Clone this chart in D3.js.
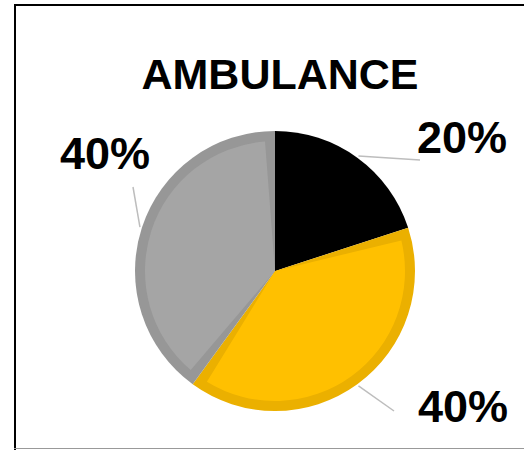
<!DOCTYPE html>
<html>
<head>
<meta charset="utf-8">
<script src="https://cdn.jsdelivr.net/npm/d3@7"></script>
<style>
  body { margin: 0; background: #fff; }
  svg { display: block; }
</style>
</head>
<body>
<svg></svg>
<script>
const w = 524;
const h = 450;

// chart data
const title = 'AMBULANCE';
const categories = ['Black', 'Yellow', 'Gray'];
const values = [20, 40, 40];
const labels = ['20%', '40%', '40%'];

const fills = ['#000000', '#FFC000', '#A5A5A5'];
const edges = ['#000000', '#EBB000', '#979797'];
// where each label sits (text start, baseline) and where its leader line ends
const labelPos = [[417, 153], [418, 422], [60, 169]];
const lineEnd = [[420, 160], [394, 411], [133, 187]];

const cx = 275;
const cy = 271;
const radius = 140;
const band = 10;

let canvas = d3.select('svg').attr('width', w).attr('height', h);

// frame
canvas.append('line').attr('x1', 14).attr('x2', w).attr('y1', 5).attr('y2', 5)
  .attr('stroke', '#000').attr('stroke-width', 2);
canvas.append('line').attr('x1', 15).attr('x2', 15).attr('y1', 4).attr('y2', h)
  .attr('stroke', '#000').attr('stroke-width', 2);
canvas.append('line').attr('x1', 14).attr('x2', w).attr('y1', 448.5).attr('y2', 448.5)
  .attr('stroke', '#999').attr('stroke-width', 1);

canvas.append('text')
  .attr('x', 280)
  .attr('y', 89)
  .attr('text-anchor', 'middle')
  .attr('font-family', '"Liberation Sans", Arial, sans-serif')
  .attr('font-weight', 'bold')
  .attr('font-size', 43)
  .attr('fill', '#000')
  .text(title);

const pie = d3.pie().sort(null).value((d) => d)(values);

const outerArc = d3.arc().innerRadius(0).outerRadius(radius);
const innerArc = d3.arc().innerRadius(0).outerRadius(radius - band)
  .padRadius(radius - band).padAngle((2 * band) / (radius - band));

const g = canvas.append('g').attr('transform', `translate(${cx},${cy})`);

g.selectAll('path.edge')
  .data(pie)
  .enter()
  .append('path')
  .attr('class', 'edge')
  .attr('d', outerArc)
  .attr('fill', (d, i) => edges[i]);

g.selectAll('path.slice')
  .data(pie)
  .enter()
  .append('path')
  .attr('class', 'slice')
  .attr('d', innerArc)
  .attr('fill', (d, i) => fills[i]);

// leader lines from the slice mid-angle on the rim to the label
const rimArc = d3.arc().innerRadius(radius + 2).outerRadius(radius + 2);
g.selectAll('line.leader')
  .data(pie)
  .enter()
  .append('line')
  .attr('class', 'leader')
  .attr('x1', (d) => rimArc.centroid(d)[0])
  .attr('y1', (d) => rimArc.centroid(d)[1])
  .attr('x2', (d, i) => lineEnd[i][0] - cx)
  .attr('y2', (d, i) => lineEnd[i][1] - cy)
  .attr('stroke', '#bdbdbd')
  .attr('stroke-width', 1.5);

canvas.selectAll('text.label')
  .data(labels)
  .enter()
  .append('text')
  .attr('class', 'label')
  .attr('x', (d, i) => labelPos[i][0])
  .attr('y', (d, i) => labelPos[i][1])
  .attr('font-family', '"Liberation Sans", Arial, sans-serif')
  .attr('font-weight', 'bold')
  .attr('font-size', 45)
  .attr('fill', '#000')
  .text((d) => d);
</script>
</body>
</html>
